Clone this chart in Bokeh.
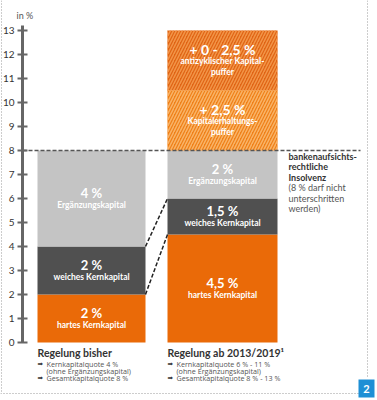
from bokeh.plotting import figure
from bokeh.models import Range1d, LinearAxis, FixedTicker
from bokeh.core.properties import value
from bokeh.embed import file_html
from bokeh.resources import INLINE

# ---------------- data ----------------
ticks = list(range(0, 14))
bar1_bottoms = [0, 2, 4]
bar1_tops = [2, 4, 8]
bar1_values = ["2 %", "2 %", "4 %"]
bar1_names = ["hartes Kernkapital", "weiches Kernkapital", "Ergänzungskapital"]

bar2_bottoms = [0, 4.5, 6, 8, 10.5]
bar2_tops = [4.5, 6, 8, 10.5, 13]
bar2_values = ["4,5 %", "1,5 %", "2 %", "+ 2,5 %", "+ 0 - 2,5 %"]
bar2_names = [["hartes Kernkapital"], ["weiches Kernkapital"], ["Ergänzungskapital"],
              ["Kapitalerhaltungs-", "puffer"], ["antizyklischer Kapital-", "puffer"]]
threshold = 8
note_lines = ["bankenaufsichts-", "rechtliche", "Insolvenz", "(8 % darf nicht", "unterschritten", "werden)"]
cat1_title = "Regelung bisher"
cat1_notes = ["Kernkapitalquote 4 %", "(ohne Ergänzungskapital)", "Gesamtkapitalquote 8 %"]
cat2_title = "Regelung ab 2013/2019¹"
cat2_notes = ["Kernkapitalquote 6 % - 11 %", "(ohne Ergänzungskapital)", "Gesamtkapitalquote 8 % - 13 %"]

# ---------------- layout ----------------
W, H = 377, 400
Y0_PX, PX = 342.0, 24.0
def ypx(p):  # pixel row -> data value (for pure layout positions)
    return (Y0_PX - p) / PX

FONT = value("Lato")
p = figure(width=W, height=H, output_backend="svg", toolbar_location=None,
           x_range=Range1d(0, W), y_range=Range1d(ypx(H), ypx(0)),
           min_border=0, min_border_left=0, min_border_right=0,
           min_border_top=0, min_border_bottom=0)
p.xaxis.visible = False
p.yaxis.visible = False
p.xgrid.visible = False
p.ygrid.visible = False
p.outline_line_color = None
p.background_fill_color = "white"

# dotted frame
p.segment(x0=[1, 0, 367], y0=[ypx(0), ypx(393), ypx(0)], x1=[1, 358, 367], y1=[ypx(393), ypx(393), ypx(378)],
          line_color="#9a9a9a", line_dash="1 2", line_width=1)

# axis
ax = LinearAxis(fixed_location=22, ticker=FixedTicker(ticks=ticks), bounds=(0, 13.2))
ax.axis_line_color = "#666666"
ax.axis_line_width = 3
ax.major_tick_line_color = "#666666"
ax.major_tick_line_width = 2
ax.major_tick_in = 5
ax.major_tick_out = 5
ax.minor_tick_line_color = None
ax.major_label_text_font = "Lato"
ax.major_label_text_font_size = "10px"
ax.major_label_text_color = "#333333"
ax.major_label_standoff = 3
p.add_layout(ax, "left")

p.text(x=[16], y=[ypx(15)], text=["in %"], text_font=FONT, text_font_size="9px",
       text_color="#555555", text_baseline="middle", text_align="left")

X1L, X1R = 37, 145
X2L, X2R = 167, 277
orange, dark, light = "#ea6a08", "#505050", "#c4c4c4"

# bar 1
p.quad(left=[X1L] * 3, right=[X1R] * 3, bottom=bar1_bottoms, top=bar1_tops,
       fill_color=[orange, dark, light], line_color=None)
# bar 2
p.quad(left=[X2L] * 3, right=[X2R] * 3, bottom=bar2_bottoms[:3], top=bar2_tops[:3],
       fill_color=[orange, dark, light], line_color=None)
p.quad(left=[X2L], right=[X2R], bottom=[bar2_bottoms[3]], top=[bar2_tops[3]],
       fill_color="#ef8018", line_color=None, hatch_pattern="right_diagonal_line", hatch_color="#f9b468",
       hatch_alpha=1.0, hatch_scale=6, hatch_weight=1.5)
p.quad(left=[X2L], right=[X2R], bottom=[bar2_bottoms[4]], top=[bar2_tops[4]],
       fill_color="#e06414", line_color=None, hatch_pattern="right_diagonal_line", hatch_color="#f29548",
       hatch_alpha=1.0, hatch_scale=6, hatch_weight=1.5)
p.segment(x0=[X2L], y0=[bar2_bottoms[4]], x1=[X2R], y1=[bar2_bottoms[4]],
          line_color="#f5a050", line_width=1)

# connecting dashes
p.segment(x0=[X1R, X1R], y0=[bar1_tops[0], bar1_tops[1]], x1=[X2L, X2L],
          y1=[bar2_tops[0], bar2_tops[1]], line_color="#222222", line_dash="4 2", line_width=1.5)
# threshold line
p.segment(x0=[22], y0=[threshold], x1=[360], y1=[threshold], line_color="#555555",
          line_dash="4 2", line_width=1.3)

# bar labels
c1 = (X1L + X1R) / 2
c2 = (X2L + X2R) / 2
for b, t, v, n in zip(bar1_bottoms, bar1_tops, bar1_values, bar1_names):
    m = (b + t) / 2
    p.text(x=[c1], y=[m + 5.5 / PX], text=[v], text_font=FONT, text_font_size="13px",
           text_font_style="bold", text_color="white", text_align="center", text_baseline="middle")
    p.text(x=[c1], y=[m - 6 / PX], text=[n], text_font=FONT, text_font_size="8.5px",
           text_font_style="bold", text_color="white", text_align="center", text_baseline="middle")
for i, (b, t, v, n) in enumerate(zip(bar2_bottoms, bar2_tops, bar2_values, bar2_names)):
    m = (b + t) / 2
    if len(n) == 1:
        p.text(x=[c2], y=[m + 5.5 / PX], text=[v], text_font=FONT, text_font_size="13px",
               text_font_style="bold", text_color="white", text_align="center", text_baseline="middle")
        p.text(x=[c2], y=[m - 6 / PX], text=[n[0]], text_font=FONT, text_font_size="8.5px",
               text_font_style="bold", text_color="white", text_align="center", text_baseline="middle")
    else:
        p.text(x=[c2], y=[m + 11 / PX], text=[v], text_font=FONT, text_font_size="14px",
               text_font_style="bold", text_color="white", text_align="center", text_baseline="middle")
        p.text(x=[c2, c2], y=[m - 0.5 / PX, m - 11.5 / PX], text=n, text_font=FONT, text_font_size="8.5px",
               text_font_style="bold", text_color="white", text_align="center", text_baseline="middle")

# right note
for i, line in enumerate(note_lines):
    p.text(x=[288], y=[ypx(156 + i * 10.4)], text=[line], text_font=FONT, text_font_size="9px",
           text_font_style="bold" if i < 3 else "normal",
           text_color="#333333" if i < 3 else "#555555", text_align="left", text_baseline="middle")

# bottom category notes
for xl, title, notes in [(X1L, cat1_title, cat1_notes), (X2L, cat2_title, cat2_notes)]:
    p.text(x=[xl], y=[ypx(352)], text=[title], text_font=FONT, text_font_size="10.5px",
           text_font_style="bold", text_color="#333333", text_align="left", text_baseline="middle")
    for j, (row, note) in enumerate(zip([363, 370, 377], notes)):
        if j != 1:
            p.text(x=[xl], y=[ypx(row)], text=["➡"], text_font=value("DejaVu Sans"), text_font_size="6.5px",
                   text_color="#333333", text_align="left", text_baseline="middle")
        p.text(x=[xl + 9], y=[ypx(row)], text=[note], text_font=value("Open Sans"), text_font_size="7.2px",
               text_color="#555555", text_align="left", text_baseline="middle")

# page marker
p.quad(left=[358], right=[374], bottom=[ypx(397)], top=[ypx(379)], fill_color="#1e8fd5", line_color=None)
p.text(x=[366], y=[ypx(388)], text=["2"], text_font=FONT, text_font_size="11px", text_font_style="bold",
       text_color="white", text_align="center", text_baseline="middle")

open("out.html", "w").write(file_html(p, INLINE))
